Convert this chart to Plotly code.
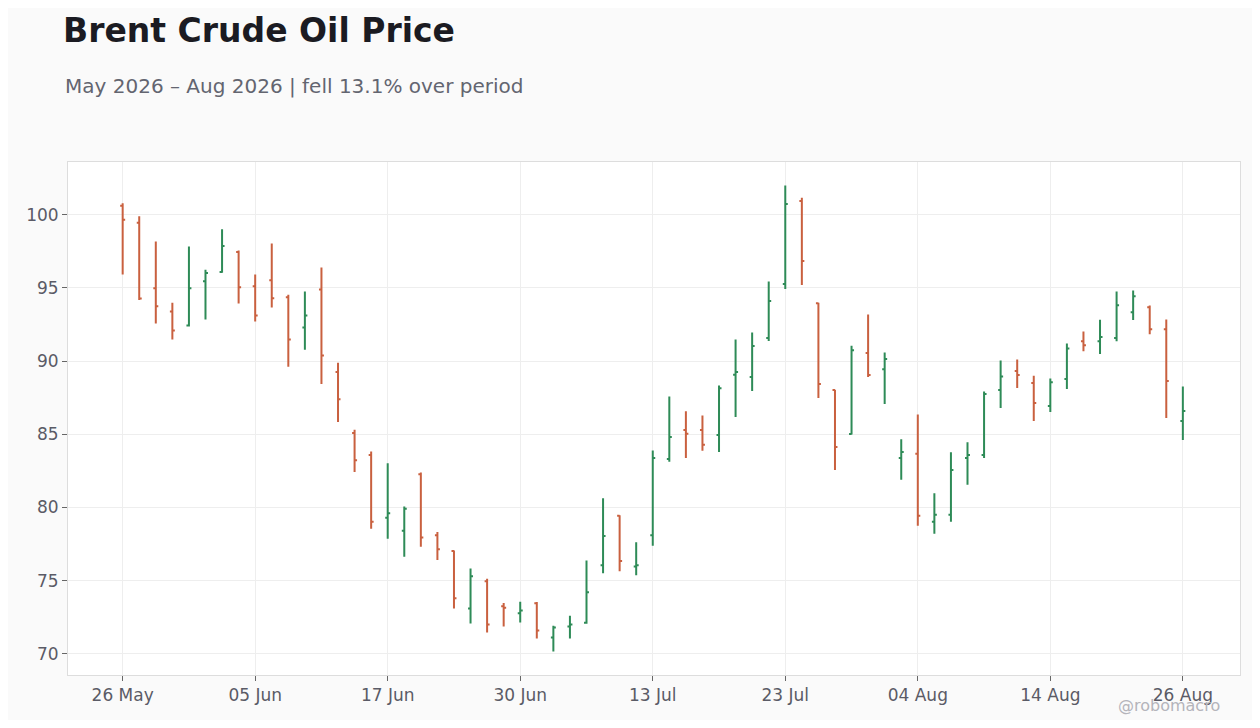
import plotly.graph_objects as go

# Brent daily OHLC, business days (US holidays 19 Jun and 3 Jul skipped)
dates = [
    "2026-05-26", "2026-05-27", "2026-05-28", "2026-05-29",
    "2026-06-01", "2026-06-02", "2026-06-03", "2026-06-04", "2026-06-05",
    "2026-06-08", "2026-06-09", "2026-06-10", "2026-06-11", "2026-06-12",
    "2026-06-15", "2026-06-16", "2026-06-17", "2026-06-18",
    "2026-06-22", "2026-06-23", "2026-06-24", "2026-06-25", "2026-06-26",
    "2026-06-29", "2026-06-30", "2026-07-01", "2026-07-02",
    "2026-07-06", "2026-07-07", "2026-07-08", "2026-07-09", "2026-07-10",
    "2026-07-13", "2026-07-14", "2026-07-15", "2026-07-16", "2026-07-17",
    "2026-07-20", "2026-07-21", "2026-07-22", "2026-07-23", "2026-07-24",
    "2026-07-27", "2026-07-28", "2026-07-29", "2026-07-30", "2026-07-31",
    "2026-08-03", "2026-08-04", "2026-08-05", "2026-08-06", "2026-08-07",
    "2026-08-10", "2026-08-11", "2026-08-12", "2026-08-13", "2026-08-14",
    "2026-08-17", "2026-08-18", "2026-08-19", "2026-08-20", "2026-08-21",
    "2026-08-24", "2026-08-25", "2026-08-26",
]
opens = [
    100.62, 99.45, 94.98, 93.39, 92.43, 95.46, 96.08, 97.45, 95.11,
    95.53, 94.36, 92.29, 94.89, 89.25, 85.09, 83.59, 79.30, 78.41,
    82.27, 78.10, 77.03, 73.11, 74.97, 73.25, 72.77, 73.46, 71.12,
    71.88, 72.13, 76.06, 79.43, 75.97, 78.11, 83.32, 85.30, 85.30, 84.96,
    89.06, 88.92, 91.58, 95.27, 100.93, 93.96, 88.02, 85.02, 90.55, 89.45,
    83.39, 83.68, 79.02, 79.50, 83.39, 83.59, 88.02, 89.32, 88.50, 86.93,
    88.77, 91.36, 91.36, 91.57, 93.34, 93.68, 92.18, 85.91,
]
highs = [
    100.78, 99.89, 98.17, 93.99, 97.82, 96.24, 99.01, 97.55, 95.92,
    98.03, 94.54, 94.75, 96.39, 89.89, 85.32, 83.82, 83.02, 80.07,
    82.39, 78.33, 77.07, 75.84, 75.13, 73.48, 73.57, 73.55, 71.92,
    72.61, 76.38, 80.64, 79.47, 77.62, 83.89, 87.58, 86.58, 86.28, 88.33,
    91.47, 91.95, 95.43, 102.00, 101.16, 93.99, 88.05, 91.05, 93.18, 90.59,
    84.66, 86.36, 80.98, 83.77, 84.45, 87.93, 90.05, 90.11, 89.00, 88.82,
    91.20, 92.02, 92.82, 94.75, 94.82, 93.80, 92.84, 88.27,
]
lows = [
    95.92, 94.17, 92.57, 91.47, 92.36, 92.84, 96.03, 93.94, 92.71,
    93.67, 89.61, 90.78, 88.43, 85.84, 82.43, 78.55, 77.86, 76.64,
    77.32, 76.42, 73.11, 72.08, 71.46, 71.88, 72.15, 71.05, 70.16,
    71.05, 72.06, 75.51, 75.65, 75.38, 77.38, 83.12, 83.39, 83.87, 83.80,
    86.19, 87.96, 91.38, 94.93, 95.20, 87.48, 82.57, 84.98, 88.91, 87.07,
    81.89, 78.75, 78.20, 79.02, 81.55, 83.39, 86.80, 88.16, 85.91, 86.52,
    88.09, 90.68, 90.48, 91.36, 92.80, 91.84, 86.11, 84.61,
]
closes = [
    99.66, 94.27, 93.74, 92.09, 94.98, 96.01, 97.87, 95.05, 93.12,
    94.29, 91.47, 93.12, 90.39, 87.39, 83.23, 79.02, 79.61, 79.91,
    77.96, 77.15, 73.80, 75.31, 72.01, 73.15, 72.97, 71.60, 71.81,
    72.01, 74.21, 78.05, 76.34, 76.06, 83.39, 84.82, 85.03, 84.28, 88.15,
    89.26, 91.04, 94.11, 100.73, 96.84, 88.44, 84.14, 90.75, 89.05, 90.14,
    83.80, 79.43, 79.50, 82.57, 83.59, 87.75, 88.95, 89.05, 87.14, 88.55,
    90.86, 91.09, 91.64, 93.82, 94.43, 92.18, 88.64, 86.59,
]

tick_dates = ["2026-05-26", "2026-06-05", "2026-06-17", "2026-06-30", "2026-07-13",
              "2026-07-23", "2026-08-04", "2026-08-14", "2026-08-26"]
tick_labels = ["26 May", "05 Jun", "17 Jun", "30 Jun", "13 Jul",
               "23 Jul", "04 Aug", "14 Aug", "26 Aug"]

UP = "#2e8b57"
DOWN = "#c9603f"

fig = go.Figure(go.Ohlc(
    x=dates, open=opens, high=highs, low=lows, close=closes,
    increasing=dict(line=dict(color=UP, width=2)),
    decreasing=dict(line=dict(color=DOWN, width=2)),
    tickwidth=0.15,
    showlegend=False,
))

W, H = 1244, 712
fig.update_layout(
    width=W, height=H,
    margin=dict(l=60, r=12, t=154, b=45),
    paper_bgcolor="#fafafa",
    plot_bgcolor="white",
    font=dict(family="DejaVu Sans", size=17, color="#5a5b66"),
    title=dict(
        text="<b>Brent Crude Oil Price</b>",
        font=dict(size=33, color="#1b1b22"),
        x=55 / W, xanchor="left", xref="container",
        y=1 - 22 / H, yanchor="middle", yref="container",
    ),
    annotations=[
        dict(text="May 2026 – Aug 2026 | fell 13.1% over period",
             xref="paper", yref="paper", x=-0.004, y=(667 - 78) / 513,
             xanchor="left", yanchor="middle", showarrow=False,
             font=dict(size=20, color="#636570")),
        dict(text="@robomacro", xref="paper", yref="paper",
             x=0.985, y=-0.0585, xanchor="right", yanchor="middle", showarrow=False,
             font=dict(size=16, color="#b4b4ba")),
    ],
    xaxis=dict(
        type="category",
        rangeslider=dict(visible=False),
        range=[-3.3, 67.45],
        tickmode="array", tickvals=tick_dates, ticktext=tick_labels,
        showgrid=True, gridcolor="#eeeeee",
        showline=True, linecolor="#dddddd", mirror=True,
        ticks="outside", ticklen=5, tickcolor="#666666",
    ),
    yaxis=dict(
        range=[68.56, 103.6],
        tickvals=[70, 75, 80, 85, 90, 95, 100],
        showgrid=True, gridcolor="#eeeeee", zeroline=False,
        showline=True, linecolor="#dddddd", mirror=True,
        ticks="outside", ticklen=5, tickcolor="#666666",
    ),
)

fig.write_html("out.html")
